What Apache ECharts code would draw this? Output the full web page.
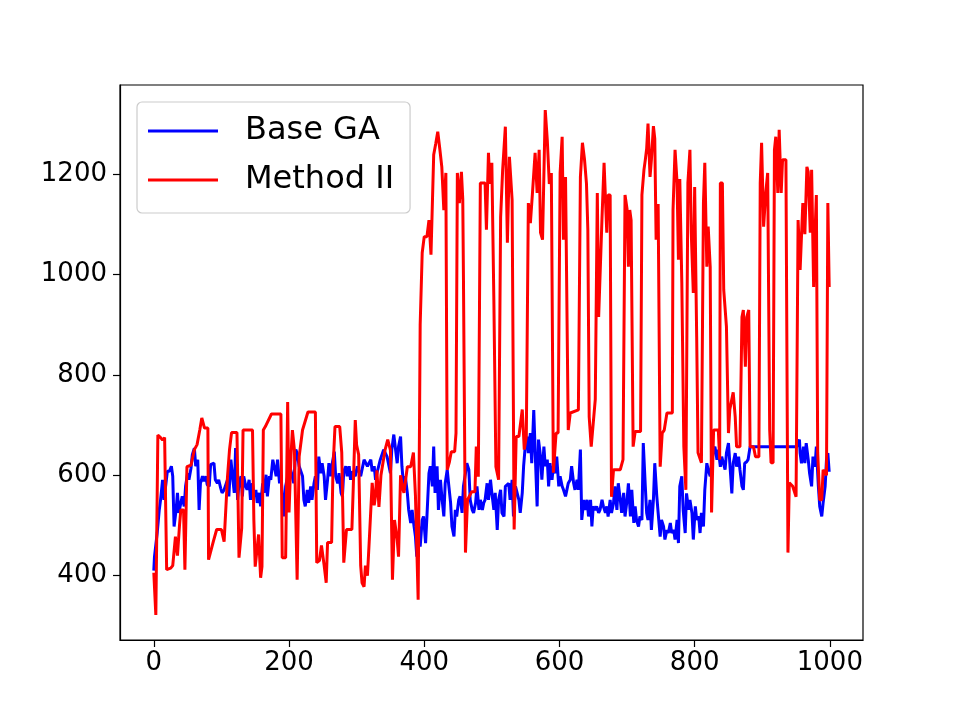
<!DOCTYPE html>
<html lang="en">
<head>
    <meta charset="UTF-8">
    <title>Base GA vs Method II</title>
    <script src="https://cdn.jsdelivr.net/npm/echarts@6/dist/echarts.min.js"></script>
    <style>
        body { margin: 0; background: #fff; }
        #main { width: 960px; height: 720px; }
    </style>
</head>
<body>
<div id="main"></div>
<script>
// values, [iteration, value]
var baseGA = [[0,410],[1,438],[5,485],[8,530],[10,551],[13,591],[15,551],[18,584],[20,608],[23,608],[26,618],[28,598],[30,498],[33,531],[35,565],[37,525],[40,545],[42,558],[45,538],[47,578],[50,604],[52,591],[55,614],[57,641],[60,654],[62,618],[65,631],[67,531],[69,584],[72,598],[74,588],[77,598],[79,581],[82,578],[84,621],[89,624],[91,591],[94,584],[96,591],[99,574],[101,565],[104,571],[109,591],[111,558],[114,631],[116,604],[119,565],[121,654],[124,551],[126,584],[129,598],[131,558],[133,598],[136,578],[138,571],[141,591],[143,551],[146,584],[148,558],[151,571],[153,545],[156,565],[158,538],[161,584],[163,565],[166,601],[168,558],[171,598],[173,591],[176,631],[178,618],[181,598],[183,631],[186,584],[188,598],[190,565],[193,518],[195,578],[198,598],[202,614],[207,584],[210,651],[212,644],[215,618],[217,618],[220,598],[222,551],[224,538],[227,571],[229,545],[232,578],[234,551],[237,584],[239,598],[242,571],[244,637],[247,604],[249,624],[252,598],[254,551],[257,591],[259,624],[262,598],[264,624],[267,647],[269,598],[272,584],[274,604],[277,565],[279,558],[281,608],[284,618],[286,598],[289,618],[291,591],[294,608],[296,604],[298,598],[301,618],[306,598],[311,631],[316,618],[321,631],[323,608],[326,618],[328,591],[330,604],[335,631],[340,651],[345,637],[350,604],[352,651],[355,681],[360,624],[362,657],[365,677],[367,618],[370,571],[372,598],[375,565],[377,531],[380,505],[382,531],[385,498],[387,478],[389,438],[392,498],[394,458],[397,511],[399,518],[402,465],[404,518],[407,604],[409,618],[412,578],[414,657],[416,565],[419,618],[421,531],[424,591],[426,558],[429,518],[431,584],[434,611],[436,584],[439,545],[441,498],[444,478],[446,531],[448,518],[451,551],[453,558],[456,525],[458,578],[461,604],[463,624],[466,611],[468,551],[471,531],[473,525],[476,545],[478,578],[481,531],[483,551],[486,531],[488,545],[490,551],[493,584],[495,551],[498,591],[500,565],[503,531],[505,565],[508,491],[510,551],[513,571],[515,525],[518,518],[520,578],[522,578],[525,584],[527,551],[530,591],[532,518],[535,578],[537,578],[540,551],[542,525],[545,565],[547,618],[549,651],[552,677],[554,644],[557,684],[559,624],[562,730],[564,651],[567,538],[569,671],[572,637],[574,591],[577,657],[579,618],[582,631],[584,578],[586,624],[589,591],[591,618],[594,604],[596,637],[599,578],[601,598],[604,578],[606,571],[609,558],[611,571],[613,584],[616,591],[618,618],[621,584],[623,571],[626,591],[628,571],[631,651],[633,511],[636,551],[638,531],[641,551],[643,518],[646,551],[648,498],[650,538],[653,531],[655,538],[658,525],[660,531],[663,551],[665,538],[668,525],[670,538],[672,518],[675,551],[677,525],[680,545],[682,578],[685,531],[687,584],[690,551],[692,525],[695,565],[697,518],[700,551],[702,584],[705,518],[707,571],[710,505],[712,538],[714,511],[717,498],[719,518],[722,511],[724,664],[727,578],[729,525],[731,511],[734,551],[736,491],[739,551],[741,624],[744,558],[746,525],[749,478],[751,511],[754,498],[756,472],[759,491],[761,485],[764,505],[766,485],[769,491],[771,472],[774,511],[776,465],[778,578],[781,598],[783,531],[786,485],[788,564],[791,531],[793,551],[796,525],[798,472],[801,538],[803,511],[806,518],[808,485],[810,525],[813,498],[815,571],[818,624],[820,611],[823,598],[825,624],[828,651],[830,657],[833,631],[835,651],[838,617],[840,637],[842,637],[845,611],[847,644],[850,664],[852,624],[855,564],[857,624],[860,644],[862,617],[865,637],[867,611],[870,578],[872,571],[874,624],[877,627],[879,631],[882,657],[951,657],[955,671],[956,644],[958,624],[961,657],[963,624],[965,664],[968,631],[970,604],[973,578],[975,637],[978,617],[980,657],[983,578],[985,538],[988,518],[990,545],[993,578],[995,631],[997,644],[999,607]];

var methodII = [[0,406],[3,322],[6,680],[10,675],[13,670],[16,675],[19,412],[25,415],[28,420],[32,478],[35,440],[38,500],[40,531],[44,531],[46,412],[49,617],[55,620],[60,651],[64,661],[68,690],[71,714],[75,694],[80,694],[81,432],[88,468],[93,492],[100,492],[104,468],[109,597],[112,651],[115,685],[123,685],[126,436],[130,495],[132,690],[146,690],[148,511],[150,418],[155,482],[158,396],[160,418],[162,690],[165,697],[174,722],[188,722],[190,436],[195,436],[198,746],[200,526],[203,641],[205,690],[208,650],[212,392],[215,637],[220,690],[228,726],[239,726],[241,426],[245,430],[248,460],[252,420],[255,386],[257,466],[263,466],[265,611],[268,697],[275,697],[278,645],[281,426],[285,492],[293,492],[295,575],[298,710],[300,660],[303,641],[306,420],[308,386],[311,378],[313,420],[316,400],[319,478],[323,585],[326,540],[328,560],[330,610],[333,537],[336,600],[338,617],[342,650],[346,671],[350,650],[353,392],[356,511],[360,472],[362,438],[365,600],[368,575],[370,565],[375,617],[380,617],[384,645],[387,560],[391,352],[393,700],[394,900],[397,1043],[400,1075],[404,1075],[407,1108],[410,1039],[412,1039],[414,1238],[417,1260],[420,1284],[423,1250],[426,1214],[429,1128],[432,1202],[434,611],[437,625],[440,647],[445,647],[447,684],[449,1202],[452,1142],[455,1204],[457,1150],[458,995],[461,446],[464,551],[470,567],[475,567],[477,657],[480,597],[483,1182],[490,1182],[492,1089],[495,1242],[497,1180],[500,1222],[503,949],[506,617],[510,591],[513,1114],[516,1208],[520,1294],[523,1063],[526,1234],[530,1148],[533,492],[536,677],[540,677],[545,731],[548,651],[551,677],[554,1142],[557,1102],[560,1160],[564,1242],[567,1162],[570,1248],[572,1083],[575,1069],[579,1327],[582,1268],[585,1180],[588,1202],[591,605],[595,684],[598,684],[601,1202],[604,1274],[606,1069],[609,1194],[613,690],[616,724],[628,730],[631,1194],[634,1262],[637,1230],[640,1180],[642,1089],[644,716],[647,657],[653,751],[656,1162],[658,915],[660,915],[663,1114],[666,1222],[670,1083],[672,1158],[675,1158],[677,557],[680,611],[690,611],[694,631],[697,1158],[700,1130],[702,1015],[704,1128],[706,1108],[709,657],[712,687],[720,687],[722,1158],[725,1208],[727,1228],[729,1250],[731,1300],[734,1194],[736,1228],[739,1295],[741,1270],[743,1069],[746,1140],[749,617],[752,684],[755,690],[759,724],[767,724],[768,1128],[771,1248],[774,1182],[776,1029],[778,1190],[781,983],[784,657],[787,571],[790,1182],[793,1248],[795,1083],[798,963],[800,1174],[803,876],[805,645],[810,625],[813,1142],[815,1222],[818,1015],[820,1095],[823,1015],[825,526],[828,690],[835,690],[837,631],[838,1182],[841,1182],[843,969],[847,896],[850,684],[852,731],[857,765],[860,716],[862,657],[867,657],[870,915],[872,929],[875,816],[877,915],[880,929],[882,657],[887,657],[890,637],[895,637],[897,1182],[899,1262],[902,1095],[905,1160],[908,1202],[911,690],[913,625],[916,625],[918,1248],[920,1274],[923,1162],[925,1288],[928,1162],[930,1228],[935,1228],[938,446],[940,585],[945,578],[950,557],[953,1108],[956,1009],[960,1142],[963,1080],[966,1214],[968,1204],[971,1083],[973,1208],[976,975],[978,1080],[980,1158],[982,645],[985,551],[988,551],[990,611],[995,600],[997,1142],[999,975]];

var xTicks = [0, 200, 400, 600, 800, 1000];
var yTicks = [400, 600, 800, 1000, 1200];

var font = 'DejaVu Sans';
var plain = function (v) { return String(v); };
var myChart = echarts.init(document.getElementById('main'));
var option = {
    animation: false,
    backgroundColor: '#fff',
    grid: {
        left: 120, right: 97, top: 85, bottom: 80,
        show: true,
        borderColor: '#000',
        borderWidth: 1.2
    },
    legend: {
        orient: 'vertical',
        left: 137,
        top: 102,
        padding: [13, 16, 17, 11],
        itemWidth: 70,
        itemHeight: 3,
        itemGap: 17,
        borderColor: '#cccccc',
        borderWidth: 1.2,
        borderRadius: 5,
        backgroundColor: 'rgba(255,255,255,0.8)',
        textStyle: {
            fontFamily: font,
            fontSize: 32,
            color: '#000',
            padding: [0, 0, 0, 22],
            lineHeight: 32
        },
        data: [
            { name: 'Base GA', icon: 'rect' },
            { name: 'Method II', icon: 'rect' }
        ]
    },
    xAxis: {
        type: 'value',
        min: -50,
        max: 1049,
        splitLine: { show: false },
        axisLine: { onZero: false, lineStyle: { color: '#000', width: 1.2 } },
        axisTick: { customValues: xTicks, length: 7, lineStyle: { color: '#000', width: 1.2 } },
        axisLabel: {
            customValues: xTicks, formatter: plain,
            fontFamily: font, fontSize: 26, color: '#000', margin: 10
        }
    },
    yAxis: {
        type: 'value',
        min: 272,
        max: 1377,
        splitLine: { show: false },
        axisLine: { show: true, onZero: false, lineStyle: { color: '#000', width: 1.2 } },
        axisTick: { show: true, customValues: yTicks, length: 7, lineStyle: { color: '#000', width: 1.2 } },
        axisLabel: {
            customValues: yTicks, formatter: plain,
            fontFamily: font, fontSize: 26, color: '#000', margin: 13
        }
    },
    series: [
        {
            name: 'Base GA',
            type: 'line',
            data: baseGA,
            showSymbol: false,
            symbol: 'none',
            color: '#0000ff',
            lineStyle: { color: '#0000ff', width: 3 }
        },
        {
            name: 'Method II',
            type: 'line',
            data: methodII,
            showSymbol: false,
            symbol: 'none',
            color: '#ff0000',
            lineStyle: { color: '#ff0000', width: 3 }
        }
    ]
};
myChart.setOption(option);
</script>
</body>
</html>
